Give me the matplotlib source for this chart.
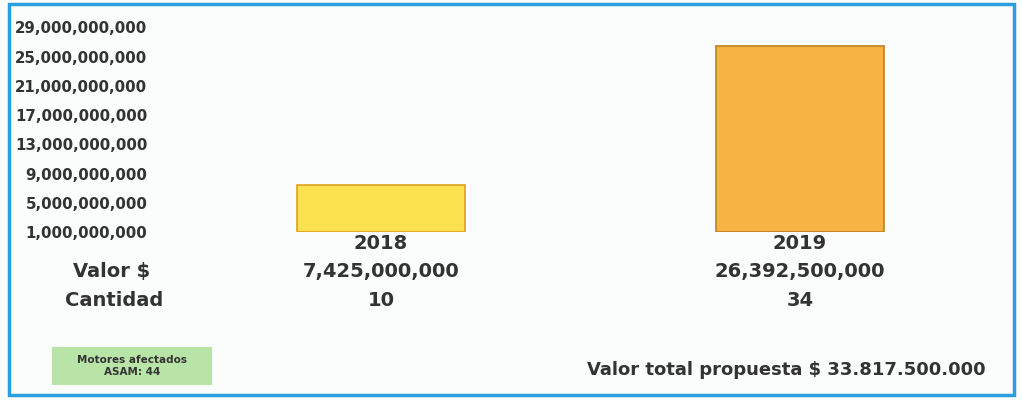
import matplotlib.pyplot as plt
import matplotlib.transforms as mtransforms
from matplotlib.patches import Rectangle
from matplotlib.ticker import FuncFormatter

# datos
anios = ["2018", "2019"]
valores = [7425000000, 26392500000]
cantidades = [10, 34]
colores = ["#fde24f", "#f6b445"]
bordes = ["#e0a020", "#c08020"]
yticks = [1e9, 5e9, 9e9, 13e9, 17e9, 21e9, 25e9, 29e9]
total_txt = "Valor total propuesta $ 33.817.500.000"
motores_txt = "Motores afectados\nASAM: 44"

texto = "#333333"

fig = plt.figure(figsize=(10.22, 4.0), dpi=100)
fig.patch.set_facecolor("#fbfcfc")

ax = fig.add_axes([160/1022, 1-232/400, 850/1022, 212/400])
ax.set_facecolor("none")

x = list(range(len(anios)))
ax.bar(x, [v - 1e9 for v in valores], bottom=1e9, width=0.4,
       color=colores, edgecolor=bordes, linewidth=1.2)

ax.set_xlim(-0.527, 1.501)
ax.set_ylim(1e9, 30e9)
ax.set_yticks(yticks)
ax.yaxis.set_major_formatter(FuncFormatter(lambda v, p: f"{int(v):,}"))
ax.tick_params(axis="y", length=0, pad=9, labelsize=10.8, labelcolor=texto)
for t in ax.get_yticklabels():
    t.set_fontweight("bold")
ax.set_xticks([])
for s in ax.spines.values():
    s.set_visible(False)

# tabla bajo las barras
tr = mtransforms.blended_transform_factory(ax.transData, fig.transFigure)
for i in x:
    ax.text(i, 1-243/400, anios[i], transform=tr, ha="center", va="center",
            fontsize=14, fontweight="bold", color=texto)
    ax.text(i, 1-271/400, f"{valores[i]:,}", transform=tr, ha="center", va="center",
            fontsize=14, fontweight="bold", color=texto)
    ax.text(i, 1-301/400, str(cantidades[i]), transform=tr, ha="center", va="center",
            fontsize=14, fontweight="bold", color=texto)

fig.text(112/1022, 1-271/400, "Valor $", ha="center", va="center",
         fontsize=14, fontweight="bold", color=texto)
fig.text(114/1022, 1-301/400, "Cantidad", ha="center", va="center",
         fontsize=14, fontweight="bold", color=texto)

# caja verde
fig.patches.append(Rectangle((52/1022, 1-385/400), 160/1022, 38/400,
                             transform=fig.transFigure, facecolor="#b9e4a8",
                             edgecolor="none"))
fig.text(132/1022, 1-366/400, motores_txt, ha="center", va="center",
         fontsize=7.5, fontweight="bold", color=texto, linespacing=1.3)

fig.text(786/1022, 1-370/400, total_txt, ha="center", va="center",
         fontsize=13, fontweight="bold", color=texto)

# marco azul
fig.patches.append(Rectangle((9/1022, 1-395/400), 1005/1022, 391/400,
                             transform=fig.transFigure, facecolor="none",
                             edgecolor="#2a9fe0", linewidth=2.5))

fig.savefig("out.png", dpi=100, facecolor=fig.get_facecolor())
